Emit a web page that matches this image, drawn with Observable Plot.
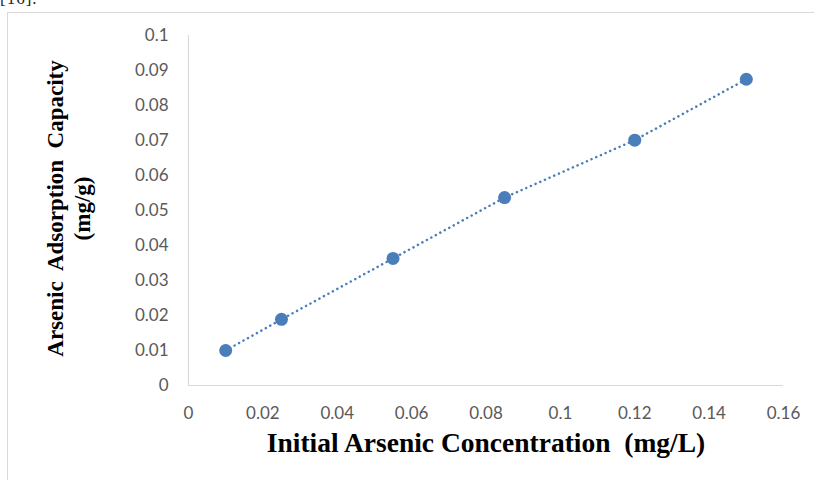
<!DOCTYPE html>
<html>
<head>
<meta charset="utf-8">
<script src="https://cdn.jsdelivr.net/npm/d3@7"></script>
<script src="https://cdn.jsdelivr.net/npm/@observablehq/plot@0.6"></script>
<style>
  html, body { margin: 0; padding: 0; background: #fff; overflow: hidden; }
  #wrap { position: relative; width: 814px; height: 480px; }
  #frame { position: absolute; left: 7px; top: 12px; width: 820px; height: 480px; border: 1px solid #d9d9d9; box-sizing: border-box; }
  #cut { position: absolute; left: 0px; top: -11px; font: 17px "Liberation Serif", serif; color: #222; letter-spacing: 1px; }
  #chart { position: absolute; left: 0; top: 0; }
</style>
</head>
<body>
<div id="wrap">
  <div id="cut">[16].</div>
  <div id="frame"></div>
  <div id="chart"></div>
</div>
<script>
const concentration = [0.01, 0.025, 0.055, 0.085, 0.12, 0.15];
const capacity = [0.0100, 0.0189, 0.0363, 0.0537, 0.0701, 0.0875];
const xTicks = [0, 0.02, 0.04, 0.06, 0.08, 0.1, 0.12, 0.14, 0.16];
const yTicks = [0, 0.01, 0.02, 0.03, 0.04, 0.05, 0.06, 0.07, 0.08, 0.09, 0.1];
const xTitle = "Initial Arsenic Concentration  (mg/L)";
const yTitle1 = "Arsenic  Adsorption  Capacity";
const yTitle2 = "(mg/g)";

const data = concentration.map((c, i) => ({x: c, y: capacity[i]}));
const fmt = v => String(+v.toFixed(3));
const blue = "#4a7ebb";

const chart = Plot.plot({
  width: 814,
  height: 480,
  marginLeft: 188,
  marginRight: 31,
  marginTop: 35,
  marginBottom: 95,
  style: {background: "transparent", fontFamily: "Lato, sans-serif"},
  x: {domain: [0, 0.16], ticks: xTicks, tickFormat: fmt, tickSize: 0, label: null},
  y: {domain: [0, 0.1], ticks: yTicks, tickFormat: fmt, tickSize: 0, label: null},
  marks: [
    Plot.axisX({ticks: xTicks, tickFormat: fmt, tickSize: 0, tickPadding: 21, fontSize: 17, fill: "#595959", label: null}),
    Plot.axisY({ticks: yTicks, tickFormat: fmt, tickSize: 0, tickPadding: 20, fontSize: 17, fill: "#595959", label: null}),
    Plot.ruleY([0], {stroke: "#d9d9d9", strokeWidth: 1.2}),
    Plot.ruleX([0], {stroke: "#d9d9d9", strokeWidth: 1.2}),
    Plot.line(data, {x: "x", y: "y", stroke: blue, strokeWidth: 2.5, strokeDasharray: "0.1,5", strokeLinecap: "round"}),
    Plot.dot(data, {x: "x", y: "y", r: 6.5, fill: blue, stroke: "none"}),
    Plot.text([xTitle], {frameAnchor: "bottom", dy: 66, text: d => d, fontFamily: "Liberation Serif, serif", fontWeight: "bold", fontSize: 27.5, fill: "#000", letterSpacing: "-0.3px"}),
    Plot.text([yTitle1], {frameAnchor: "left", textAnchor: "middle", dx: -133, dy: -2, text: d => d, rotate: -90, fontFamily: "Liberation Serif, serif", fontWeight: "bold", fontSize: 23, fill: "#000"}),
    Plot.text([yTitle2], {frameAnchor: "left", textAnchor: "middle", dx: -106, dy: -2, text: d => d, rotate: -90, fontFamily: "Liberation Serif, serif", fontWeight: "bold", fontSize: 23, fill: "#000"})
  ]
});
document.getElementById("chart").appendChild(chart);
</script>
</body>
</html>
